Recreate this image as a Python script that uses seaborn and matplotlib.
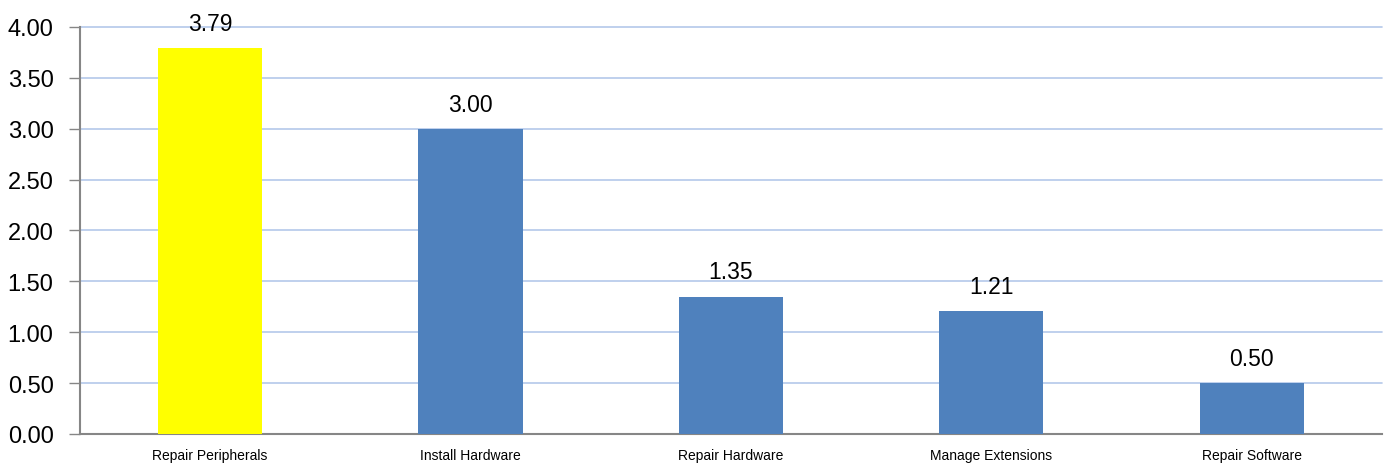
import pandas as pd
import matplotlib
matplotlib.use('Agg')
import matplotlib.pyplot as plt
import seaborn as sns

# Values
tasks = ['Repair Peripherals', 'Install Hardware', 'Repair Hardware', 'Manage Extensions', 'Repair Software']
scores = [3.79, 3.00, 1.35, 1.21, 0.50]
bar_colors = ['#FFFF00', '#4F81BD', '#4F81BD', '#4F81BD', '#4F81BD']

df = pd.DataFrame({'task': tasks, 'score': scores})

sns.set_style('white')
plt.rcParams['font.family'] = ['Liberation Sans', 'DejaVu Sans']
plt.rcParams['text.color'] = 'black'
plt.rcParams['xtick.color'] = 'black'
plt.rcParams['ytick.color'] = 'black'

fig = plt.figure(figsize=(13.91, 4.64), dpi=100)
ax = fig.add_axes([0.0575, 0.0625, 0.936, 0.8772])

sns.barplot(data=df, x='task', y='score', hue='task', palette=bar_colors,
            width=0.4, legend=False, saturation=1, linewidth=0, ax=ax, zorder=3)

ax.set_ylim(0, 4)
ax.set_xlim(-0.5, len(tasks) - 0.5)
ax.set_yticks([i * 0.5 for i in range(9)])
ax.set_yticklabels([f'{i * 0.5:.2f}' for i in range(9)], fontsize=17)
ax.yaxis.grid(True, color='#B4C8EA', linewidth=1.2, zorder=0)
for gl in ax.get_ygridlines():
    gl.set_clip_on(False)
ax.set_axisbelow(True)

# category labels at centres, tick marks on the boundaries
ax.set_xticks(range(len(tasks)))
ax.set_xticklabels(tasks, fontsize=10)
ax.tick_params(axis='x', which='major', length=0, pad=10)
ax.set_xticks([i - 0.5 for i in range(len(tasks) + 1)], minor=True)
ax.tick_params(axis='x', which='minor', length=5, color='#868686', width=1)
ax.tick_params(axis='y', length=8, color='#868686', width=1, left=True, pad=11)

ax.set_xlabel('')
ax.set_ylabel('')
for side in ['top', 'right']:
    ax.spines[side].set_visible(False)
for side in ['left', 'bottom']:
    ax.spines[side].set_color('#868686')
    ax.spines[side].set_linewidth(1.5)

for i, v in enumerate(scores):
    ax.text(i, v + 0.13, f'{v:.2f}', ha='center', va='bottom', fontsize=16.5)

fig.savefig('out.png', dpi=100)
